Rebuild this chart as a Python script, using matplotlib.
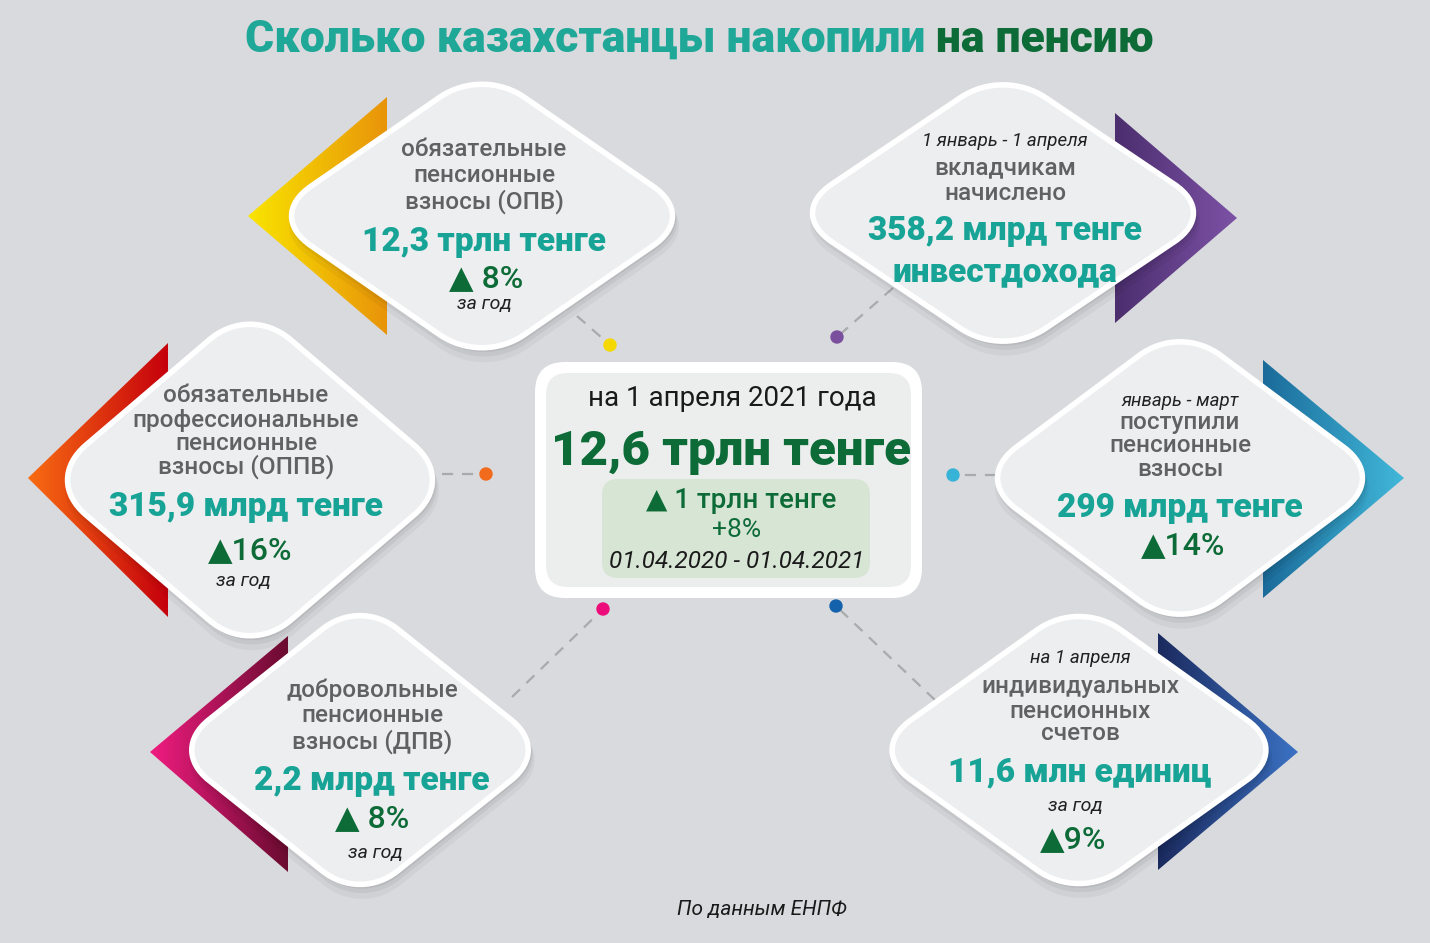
import numpy as np
import matplotlib.pyplot as plt
from matplotlib.path import Path
from matplotlib.patches import PathPatch, Polygon, FancyBboxPatch, Circle
from matplotlib.colors import LinearSegmentedColormap

# --- data ---
card_notes = ["", "1 январь - 1 апреля", "", "январь - март", "", "на 1 апреля"]
card_labels = [
    ["обязательные", "пенсионные", "взносы (ОПВ)"],
    ["вкладчикам", "начислено"],
    ["обязательные", "профессиональные", "пенсионные", "взносы (ОППВ)"],
    ["поступили", "пенсионные", "взносы"],
    ["добровольные", "пенсионные", "взносы (ДПВ)"],
    ["индивидуальных", "пенсионных", "счетов"],
]
card_amounts = [
    ["12,3 трлн тенге"],
    ["358,2 млрд тенге", "инвестдохода"],
    ["315,9 млрд тенге"],
    ["299 млрд тенге"],
    ["2,2 млрд тенге"],
    ["11,6 млн единиц"],
]
card_growth = ["▲ 8%", "", "▲16%", "▲14%", "▲ 8%", "▲9%"]
card_period = ["за год", "", "за год", "", "за год", "за год"]

total_date = "на 1 апреля 2021 года"
total_value = "12,6 трлн тенге"
total_growth = "▲ 1 трлн тенге"
total_pct = "+8%"
total_range = "01.04.2020 - 01.04.2021"

# --- styles ---
BG = "#d9dadd"
TEAL = "#17a395"
DGREEN = "#0d6b38"
GRAY = "#5f6163"
FONT = ["Roboto", "DejaVu Sans"]

W, H = 1430, 943
fig = plt.figure(figsize=(14.3, 9.43), dpi=100)
fig.patch.set_facecolor(BG)
ax = fig.add_axes([0, 0, 1, 1])
ax.set_facecolor(BG)
ax.axis("off")


def rhombus(cx, cy, hw, hh, k=0.2):
    pts = [np.array(p, float) for p in [(cx, cy - hh), (cx + hw, cy), (cx, cy + hh), (cx - hw, cy)]]
    verts, codes = [], []
    for i in range(4):
        p, prev, nxt = pts[i], pts[i - 1], pts[(i + 1) % 4]
        a = p + (prev - p) * k
        b = p + (nxt - p) * k
        verts.append(a)
        codes.append(Path.MOVETO if i == 0 else Path.LINETO)
        verts += [a + (p - a) * 0.6, b + (p - b) * 0.6, b]
        codes += [Path.CURVE4] * 3
    verts.append(verts[0])
    codes.append(Path.CLOSEPOLY)
    return Path(verts, codes)


def grad_triangle(pts, c_left, c_right, z):
    cmap = LinearSegmentedColormap.from_list("g", [c_left, c_right])
    xs = [p[0] for p in pts]
    ys = [p[1] for p in pts]
    grad = np.linspace(0, 1, 256).reshape(1, -1)
    im = ax.imshow(grad, cmap=cmap, extent=(min(xs), max(xs), max(ys), min(ys)),
                   aspect="auto", zorder=z, interpolation="bilinear")
    clip = Polygon(pts, closed=True, facecolor="none", edgecolor="none")
    ax.add_patch(clip)
    im.set_clip_path(clip)


# card geometry: centre, half width, half height (before corner rounding)
cards = [
    (482, 216, 214, 148),
    (1003, 213, 214, 144),
    (250, 480, 205, 175),
    (1180, 478, 205, 153),
    (360, 750, 189, 151),
    (1079, 750, 210, 150),
]
chevrons = [
    ([(248, 216), (387, 97), (387, 335)], "#f9e400", "#e8940a"),
    ([(1115, 113), (1237, 218), (1115, 323)], "#4b2e6e", "#7d52a6"),
    ([(28, 478), (168, 343), (168, 617)], "#f86c12", "#c5000c"),
    ([(1263, 360), (1404, 478), (1263, 598)], "#1b6b9a", "#41b8da"),
    ([(150, 752), (288, 636), (288, 872)], "#f01c80", "#6a0b30"),
    ([(1158, 633), (1298, 752), (1158, 870)], "#1b2a5e", "#3b72c4"),
]

for i, ((cx, cy, hw, hh), (tri, c0, c1)) in enumerate(zip(cards, chevrons)):
    z = 2 + i * 3
    grad_triangle(tri, c0, c1, z)
    for s, a in [(10, 0.04), (6, 0.05), (3, 0.06)]:
        ax.add_patch(PathPatch(rhombus(cx + 2, cy + s, hw + s / 2, hh + s / 2),
                               facecolor="#000000", edgecolor="none", alpha=a, zorder=z + 0.5))
    ax.add_patch(PathPatch(rhombus(cx, cy, hw, hh), facecolor="#eceeef",
                           edgecolor="#ffffff", linewidth=4, zorder=z + 1))

# connectors
dots = [
    ((577, 316), (610, 345), "#f5d800"),
    ((893, 288), (837, 337), "#7a4f9e"),
    ((442, 474), (486, 474), "#f26a1b"),
    ((996, 475), (953, 475), "#36b3d6"),
    ((512, 697), (603, 609), "#ec0d7a"),
    ((935, 700), (836, 606), "#1462ab"),
]
for (x0, y0), (x1, y1), col in dots:
    ax.plot([x0, x1], [y0, y1], color="#a9aaac", lw=1.6, ls=(0, (5, 4)), zorder=1)
    ax.add_patch(Circle((x1, y1), 6, color=col, zorder=30))

# card texts
label_kw = dict(color=GRAY, fontsize=17.5, family=FONT, fontweight="medium", ha="center", va="center")
amount_kw = dict(color=TEAL, fontsize=24, family=FONT, fontweight="black", ha="center", va="center")
growth_kw = dict(color=DGREEN, fontsize=23, family=FONT, fontweight="medium", ha="center", va="center")
note_kw = dict(color="#222222", fontsize=13.5, family=FONT, style="italic", fontweight="normal",
               ha="center", va="center")

text_layout = [
    dict(x=484, note=None, labels=[150, 175, 202], amounts=[242], growth=(486, 279), period=(484, 304)),
    dict(x=1005, note=141, labels=[168, 193], amounts=[231, 272], growth=None, period=None),
    dict(x=246, note=None, labels=[396, 420, 444, 467], amounts=[507], growth=(250, 551), period=(243, 581)),
    dict(x=1180, note=401, labels=[423, 446, 470], amounts=[508], growth=(1183, 546), period=None),
    dict(x=372, note=None, labels=[690, 715, 742], amounts=[781], growth=(372, 819), period=(375, 853)),
    dict(x=1080, note=658, labels=[686, 711, 734], amounts=[772], growth=(1073, 840), period=(1075, 806)),
]

for i, lay in enumerate(text_layout):
    z = 2 + i * 3 + 2
    x = lay["x"]
    if lay["note"]:
        ax.text(x, lay["note"], card_notes[i], zorder=z, **note_kw)
    for txt, y in zip(card_labels[i], lay["labels"]):
        ax.text(x, y, txt, zorder=z, **label_kw)
    for txt, y in zip(card_amounts[i], lay["amounts"]):
        ax.text(x, y, txt, zorder=z, **amount_kw)
    if lay["growth"]:
        ax.text(*lay["growth"], card_growth[i], zorder=z, **growth_kw)
    if lay["period"]:
        kw = dict(note_kw)
        kw["fontsize"] = 14
        ax.text(*lay["period"], card_period[i], zorder=z, **kw)

# central box
ax.add_patch(FancyBboxPatch((535, 362), 387, 236, boxstyle="round,pad=0,rounding_size=30",
                            facecolor="#ffffff", edgecolor="none", zorder=40))
ax.add_patch(FancyBboxPatch((546, 373), 365, 214, boxstyle="round,pad=0,rounding_size=22",
                            facecolor="#eceeee", edgecolor="none", zorder=41))
ax.add_patch(FancyBboxPatch((602, 479), 268, 99, boxstyle="round,pad=0,rounding_size=16",
                            facecolor="#d7e5d4", edgecolor="none", zorder=42))
ax.text(732, 398, total_date, color="#1a1a1a", fontsize=20, family=FONT,
        ha="center", va="center", zorder=43)
ax.text(731, 452, total_value, color=DGREEN, fontsize=35.5, family=FONT, fontweight="black",
        ha="center", va="center", zorder=43)
ax.text(741, 500, total_growth, color=DGREEN, fontsize=20, family=FONT, fontweight="medium",
        ha="center", va="center", zorder=43)
ax.text(737, 530, total_pct, color=DGREEN, fontsize=19, family=FONT,
        ha="center", va="center", zorder=43)
ax.text(737, 562, total_range, color="#1a1a1a", fontsize=17.5, family=FONT, style="italic",
        fontweight="normal", ha="center", va="center", zorder=43)

# title
ax.text(936, 40, "Сколько казахстанцы накопили ", color="#1fa797", fontsize=32,
        family=FONT, fontweight="black", ha="right", va="center", zorder=50)
ax.text(936, 40, "на пенсию", color=DGREEN, fontsize=32, family=FONT, fontweight="black",
        ha="left", va="center", zorder=50)

ax.text(762, 910, "По данным ЕНПФ", color="#1a1a1a", fontsize=15, family=FONT, style="italic",
        fontweight="normal", ha="center", va="center", zorder=50)

ax.set_xlim(0, W)
ax.set_ylim(H, 0)
fig.savefig("out.png", dpi=100, facecolor=BG)
